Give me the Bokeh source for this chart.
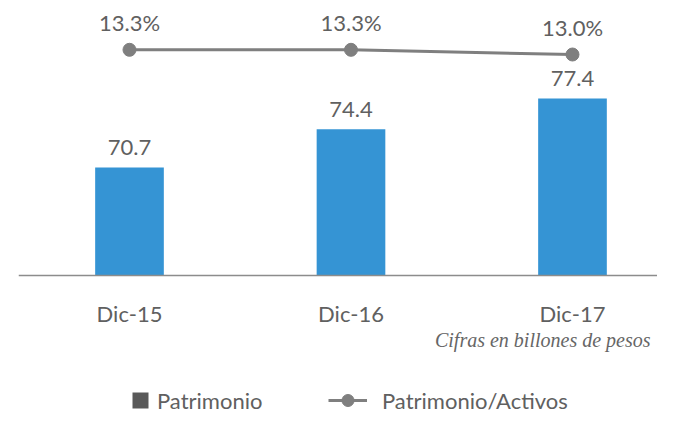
from bokeh.plotting import figure
from bokeh.models import (Range1d, ColumnDataSource, Legend, LegendItem, Label, Span)
from bokeh.core.properties import value
from bokeh.embed import file_html
from bokeh.resources import INLINE

# ---- data ----
periodos = ["Dic-15", "Dic-16", "Dic-17"]
patrimonio = [70.7, 74.4, 77.4]
patrimonio_activos = [13.3, 13.3, 13.0]
nota = "Cifras en billones de pesos"
serie_barras = "Patrimonio"
serie_linea = "Patrimonio/Activos"

# ---- styles ----
FONT_NAME = "Lato"
FONT = value(FONT_NAME)
TXT = "#606060"
BLUE = "#3594D4"
GREY = "#7F7F7F"
BASE = 60.21          # value at which the baseline (axis line) sits

xs = list(range(len(periodos)))
src = ColumnDataSource(dict(
    x=xs,
    cat=periodos,
    base=[BASE] * len(xs),
    pat=patrimonio,
    pat_lbl=[f"{v:.1f}" for v in patrimonio],
    rat=patrimonio_activos,
    rat_lbl=[f"{v:.1f}%" for v in patrimonio_activos],
))

p = figure(width=657, height=415,
           x_range=Range1d(-0.5011, 2.3838), y_range=Range1d(46.62, 86.91),
           output_backend="svg", toolbar_location=None,
           min_border_left=18, min_border_right=0, min_border_top=0,
           min_border_bottom=0)
p.extra_y_ranges = {"ratio": Range1d(-9.99, 16.44)}

p.outline_line_color = None
p.grid.visible = False
p.xaxis.visible = False
p.yaxis.visible = False
p.background_fill_color = "white"
p.border_fill_color = "white"

# baseline (category axis line)
p.add_layout(Span(location=BASE, dimension="width", line_color="#8C8C8C", line_width=1.5))

# category labels under the axis line
p.text(x="x", y="base", text="cat", source=src, text_align="center",
       text_baseline="alphabetic", y_offset=38, text_font=FONT,
       text_font_size="22px", text_color=TXT)

bars = p.vbar(x="x", top="pat", bottom=BASE, width=0.31, source=src,
              fill_color=BLUE, line_color=None)
p.text(x="x", y="pat", text="pat_lbl", source=src, text_align="center",
       text_baseline="alphabetic", y_offset=-20, text_font=FONT,
       text_font_size="22px", text_color=TXT)

ln = p.line(x="x", y="rat", source=src, y_range_name="ratio", line_color=GREY, line_width=3)
mk = p.scatter(x="x", y="rat", source=src, y_range_name="ratio", size=13,
               fill_color=GREY, line_color=GREY)
p.text(x="x", y="rat", text="rat_lbl", source=src, y_range_name="ratio",
       text_align="center", text_baseline="alphabetic", y_offset=-27,
       text_font=FONT, text_font_size="22px", text_color=TXT)

# legend proxy for the bar series (grey swatch as in the original):
# a zero-height bar on the baseline, so it draws nothing in the plot itself
proxy_src = ColumnDataSource(dict(x=xs[:1], top=[BASE]))
proxy = p.vbar(x="x", top="top", bottom=BASE, width=0.3, source=proxy_src,
               fill_color="#595959", line_color=None)

leg1 = Legend(items=[LegendItem(label=serie_barras, renderers=[proxy], index=0)],
              location=(112, 1.5), glyph_width=20, glyph_height=20,
              label_standoff=7, label_text_font=FONT_NAME, label_text_font_size="22px",
              label_text_color=TXT, padding=0, margin=0, spacing=0,
              border_line_color=None, background_fill_alpha=0)
leg2 = Legend(items=[LegendItem(label=serie_linea, renderers=[ln, mk])],
              location=(310, 0), glyph_width=39, glyph_height=30,
              label_standoff=15, label_text_font=FONT_NAME, label_text_font_size="22px",
              label_text_color=TXT, padding=0, margin=0, spacing=0,
              border_line_color=None, background_fill_alpha=0)
p.add_layout(leg1)
p.add_layout(leg2)

p.add_layout(Label(x=632, y=76, x_units="screen", y_units="screen", text=nota,
                   text_align="right", text_baseline="alphabetic",
                   text_font="Liberation Serif", text_font_style="italic",
                   text_font_size="20px", text_color="#666666"))

open("out.html", "w").write(file_html(p, INLINE))
